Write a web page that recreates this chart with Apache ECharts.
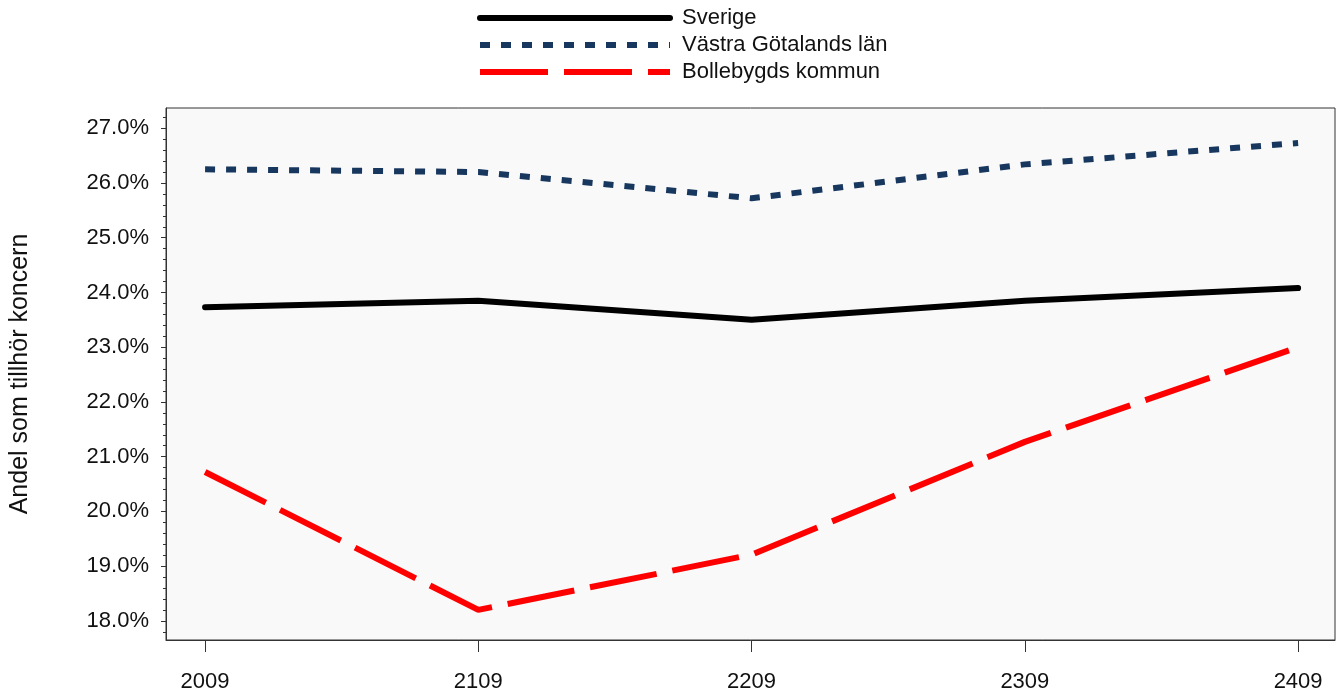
<!DOCTYPE html>
<html>
<head>
<meta charset="utf-8">
<script src="https://cdn.jsdelivr.net/npm/echarts@6/dist/echarts.min.js"></script>
<style>
  html, body { margin: 0; padding: 0; background: #fff; }
  #myChart { width: 1342px; height: 693px; }
</style>
</head>
<body>
<div id="myChart"></div>
<script>
// kategorier (x-axeln)
const categories = ["2009", "2109", "2209", "2309", "2409"];
// andel i procent
const sverige = [23.73, 23.85, 23.50, 23.85, 24.08];
const vastra = [26.25, 26.20, 25.72, 26.34, 26.73];
const bollebygd = [20.72, 18.20, 19.21, 21.27, 23.00];
// y-axelns etiketter
const yTicks = [18, 19, 20, 21, 22, 23, 24, 25, 26, 27];

const FONT = "Liberation Sans, Arial, sans-serif";

// mindre tickar var 0.2
const yMinor = [];
for (let v = 176; v <= 274; v += 2) yMinor.push(v / 10);

const toPoints = (arr) => arr.map((v, i) => [i, v]);

let myChart = echarts.init(document.getElementById("myChart"));
myChart.setOption({
  animation: false,
  legend: {
    orient: "vertical",
    left: 477,
    top: 7,
    padding: 0,
    itemWidth: 190,
    itemHeight: 14,
    itemGap: 5,
    itemStyle: { opacity: 0 },
    lineStyle: { width: 6 },
    textStyle: {
      fontFamily: FONT,
      fontSize: 22,
      color: "#111",
      padding: [0, 0, 0, 7],
    },
    data: ["Sverige", "Västra Götalands län", "Bollebygds kommun"],
  },
  grid: {
    left: 165,
    right: 7,
    top: 108,
    bottom: 53,
    show: true,
    backgroundColor: "#f9f9f9",
    borderColor: "#333",
    borderWidth: 1,
  },
  xAxis: {
    type: "value",
    min: -0.143,
    max: 4.135,
    splitLine: { show: false },
    axisLine: { show: true, onZero: false, lineStyle: { color: "#333" } },
    axisTick: {
      show: true,
      length: 12,
      customValues: [0, 1, 2, 3, 4],
      lineStyle: { color: "#333" },
    },
    axisLabel: {
      customValues: [0, 1, 2, 3, 4],
      formatter: (v) => categories[Math.round(v)],
      margin: 31,
      fontFamily: FONT,
      fontSize: 22,
      color: "#111",
    },
  },
  yAxis: [
    {
      type: "value",
      min: 17.65,
      max: 27.37,
      name: "Andel som tillhör koncern",
      nameLocation: "middle",
      nameRotate: 90,
      nameGap: 133,
      nameTextStyle: { fontFamily: FONT, fontSize: 25, color: "#111" },
      splitLine: { show: false },
      axisLine: { show: true, onZero: false, lineStyle: { color: "#333" } },
      axisTick: {
        show: true,
        length: 5,
        customValues: yTicks,
        lineStyle: { color: "#333" },
      },
      axisLabel: {
        customValues: yTicks,
        formatter: (v) => v.toFixed(1) + "%",
        margin: 17,
        fontFamily: FONT,
        fontSize: 22,
        color: "#111",
      },
    },
    {
      type: "value",
      position: "left",
      min: 17.65,
      max: 27.37,
      splitLine: { show: false },
      axisLine: { show: false, onZero: false },
      axisTick: {
        show: true,
        length: 3,
        customValues: yMinor,
        lineStyle: { color: "#333" },
      },
      axisLabel: { show: false },
    },
  ],
  series: [
    {
      name: "Sverige",
      type: "line",
      data: toPoints(sverige),
      symbol: "none",
      lineStyle: { color: "#000", width: 6, cap: "round", join: "round" },
      itemStyle: { color: "#000" },
    },
    {
      name: "Västra Götalands län",
      type: "line",
      data: toPoints(vastra),
      symbol: "none",
      lineStyle: { color: "#17375e", width: 6, type: [10, 11], cap: "butt" },
      itemStyle: { color: "#17375e" },
    },
    {
      name: "Bollebygds kommun",
      type: "line",
      data: toPoints(bollebygd),
      symbol: "none",
      lineStyle: { color: "#ff0000", width: 6, type: [68, 16], cap: "butt" },
      itemStyle: { color: "#ff0000" },
    },
  ],
});
</script>
</body>
</html>
